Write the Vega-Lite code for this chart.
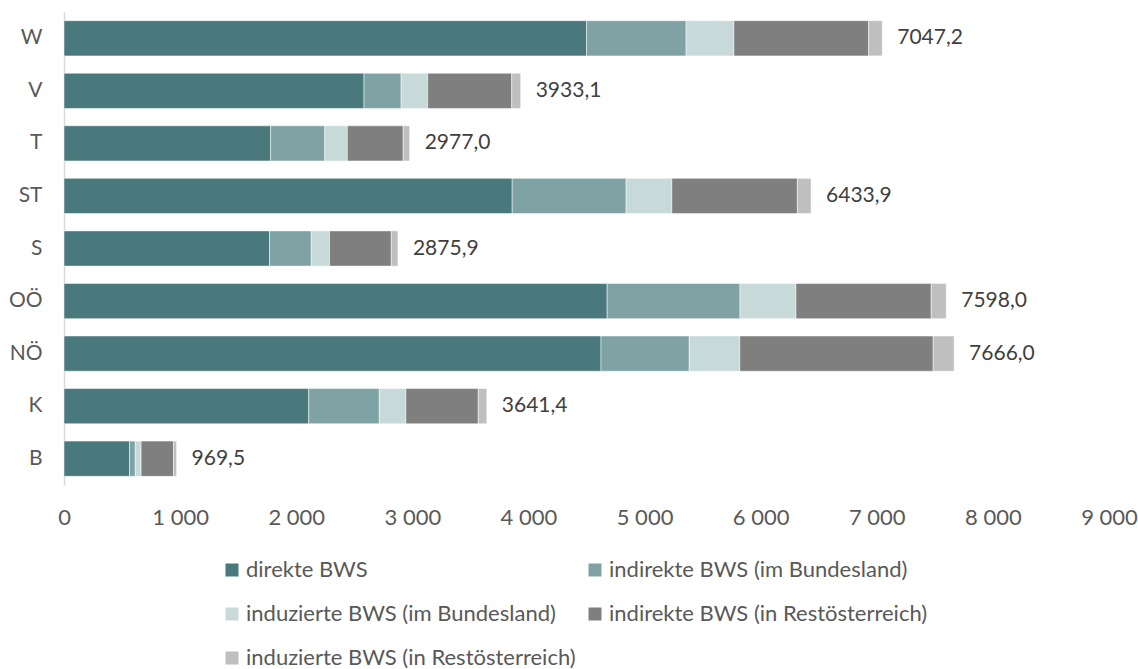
{
  "$schema": "https://vega.github.io/schema/vega-lite/v6.json",
  "width": 1045,
  "height": 473,
  "autosize": {"type": "none"},
  "padding": {"left": 64, "top": 12, "right": 29, "bottom": 184},
  "background": "white",
  "config": {
    "view": {"stroke": null},
    "locale": {"number": {"decimal": ",", "thousands": "\u00a0", "grouping": [3], "currency": ["", " €"]}},
    "font": "Lato",
    "axis": {"labelFont": "Lato", "labelColor": "#595959", "grid": false, "ticks": false, "title": null}
  },
  "data": {
    "values": [
      {"Land": "W", "Komponente": "direkte BWS", "Nr": 1, "Wert": 4500},
      {"Land": "W", "Komponente": "indirekte BWS (im Bundesland)", "Nr": 2, "Wert": 858},
      {"Land": "W", "Komponente": "induzierte BWS (im Bundesland)", "Nr": 3, "Wert": 411},
      {"Land": "W", "Komponente": "indirekte BWS (in Restösterreich)", "Nr": 4, "Wert": 1161},
      {"Land": "W", "Komponente": "induzierte BWS (in Restösterreich)", "Nr": 5, "Wert": 117.2},
      {"Land": "V", "Komponente": "direkte BWS", "Nr": 1, "Wert": 2584},
      {"Land": "V", "Komponente": "indirekte BWS (im Bundesland)", "Nr": 2, "Wert": 320},
      {"Land": "V", "Komponente": "induzierte BWS (im Bundesland)", "Nr": 3, "Wert": 228},
      {"Land": "V", "Komponente": "indirekte BWS (in Restösterreich)", "Nr": 4, "Wert": 724},
      {"Land": "V", "Komponente": "induzierte BWS (in Restösterreich)", "Nr": 5, "Wert": 77.1},
      {"Land": "T", "Komponente": "direkte BWS", "Nr": 1, "Wert": 1779},
      {"Land": "T", "Komponente": "indirekte BWS (im Bundesland)", "Nr": 2, "Wert": 467},
      {"Land": "T", "Komponente": "induzierte BWS (im Bundesland)", "Nr": 3, "Wert": 194},
      {"Land": "T", "Komponente": "indirekte BWS (in Restösterreich)", "Nr": 4, "Wert": 482},
      {"Land": "T", "Komponente": "induzierte BWS (in Restösterreich)", "Nr": 5, "Wert": 55},
      {"Land": "ST", "Komponente": "direkte BWS", "Nr": 1, "Wert": 3860},
      {"Land": "ST", "Komponente": "indirekte BWS (im Bundesland)", "Nr": 2, "Wert": 981},
      {"Land": "ST", "Komponente": "induzierte BWS (im Bundesland)", "Nr": 3, "Wert": 394},
      {"Land": "ST", "Komponente": "indirekte BWS (in Restösterreich)", "Nr": 4, "Wert": 1081},
      {"Land": "ST", "Komponente": "induzierte BWS (in Restösterreich)", "Nr": 5, "Wert": 117.9},
      {"Land": "S", "Komponente": "direkte BWS", "Nr": 1, "Wert": 1770},
      {"Land": "S", "Komponente": "indirekte BWS (im Bundesland)", "Nr": 2, "Wert": 360},
      {"Land": "S", "Komponente": "induzierte BWS (im Bundesland)", "Nr": 3, "Wert": 157},
      {"Land": "S", "Komponente": "indirekte BWS (in Restösterreich)", "Nr": 4, "Wert": 532},
      {"Land": "S", "Komponente": "induzierte BWS (in Restösterreich)", "Nr": 5, "Wert": 56.9},
      {"Land": "OÖ", "Komponente": "direkte BWS", "Nr": 1, "Wert": 4678},
      {"Land": "OÖ", "Komponente": "indirekte BWS (im Bundesland)", "Nr": 2, "Wert": 1144},
      {"Land": "OÖ", "Komponente": "induzierte BWS (im Bundesland)", "Nr": 3, "Wert": 482},
      {"Land": "OÖ", "Komponente": "indirekte BWS (in Restösterreich)", "Nr": 4, "Wert": 1165},
      {"Land": "OÖ", "Komponente": "induzierte BWS (in Restösterreich)", "Nr": 5, "Wert": 129},
      {"Land": "NÖ", "Komponente": "direkte BWS", "Nr": 1, "Wert": 4625},
      {"Land": "NÖ", "Komponente": "indirekte BWS (im Bundesland)", "Nr": 2, "Wert": 760},
      {"Land": "NÖ", "Komponente": "induzierte BWS (im Bundesland)", "Nr": 3, "Wert": 435},
      {"Land": "NÖ", "Komponente": "indirekte BWS (in Restösterreich)", "Nr": 4, "Wert": 1666},
      {"Land": "NÖ", "Komponente": "induzierte BWS (in Restösterreich)", "Nr": 5, "Wert": 180},
      {"Land": "K", "Komponente": "direkte BWS", "Nr": 1, "Wert": 2108},
      {"Land": "K", "Komponente": "indirekte BWS (im Bundesland)", "Nr": 2, "Wert": 608},
      {"Land": "K", "Komponente": "induzierte BWS (im Bundesland)", "Nr": 3, "Wert": 228},
      {"Land": "K", "Komponente": "indirekte BWS (in Restösterreich)", "Nr": 4, "Wert": 624},
      {"Land": "K", "Komponente": "induzierte BWS (in Restösterreich)", "Nr": 5, "Wert": 73.4},
      {"Land": "B", "Komponente": "direkte BWS", "Nr": 1, "Wert": 564},
      {"Land": "B", "Komponente": "indirekte BWS (im Bundesland)", "Nr": 2, "Wert": 50},
      {"Land": "B", "Komponente": "induzierte BWS (im Bundesland)", "Nr": 3, "Wert": 50},
      {"Land": "B", "Komponente": "indirekte BWS (in Restösterreich)", "Nr": 4, "Wert": 279},
      {"Land": "B", "Komponente": "induzierte BWS (in Restösterreich)", "Nr": 5, "Wert": 26.5}
    ]
  },
  "encoding": {
    "y": {
      "field": "Land",
      "type": "nominal",
      "sort": ["W", "V", "T", "ST", "S", "OÖ", "NÖ", "K", "B"],
      "scale": {"paddingInner": 0.33, "paddingOuter": 0.165},
      "axis": {"domain": true, "domainColor": "#D9D9D9", "domainWidth": 1.5, "labelPadding": 22, "labelFontSize": 21}
    }
  },
  "layer": [
    {
      "mark": {"type": "bar", "stroke": "white", "strokeWidth": 0.5},
      "encoding": {
        "x": {
          "field": "Wert",
          "type": "quantitative",
          "stack": "zero",
          "scale": {"domain": [0, 9000], "nice": false},
          "axis": {"values": [0, 1000, 2000, 3000, 4000, 5000, 6000, 7000, 8000, 9000], "format": ",d", "domain": false, "labelPadding": 22, "labelFlush": false, "labelFontSize": 22, "labelOverlap": false}
        },
        "order": {"field": "Nr", "type": "quantitative", "sort": "ascending"},
        "color": {
          "field": "Komponente",
          "type": "nominal",
          "sort": ["direkte BWS", "indirekte BWS (im Bundesland)", "induzierte BWS (im Bundesland)", "indirekte BWS (in Restösterreich)", "induzierte BWS (in Restösterreich)"],
          "scale": {
            "domain": ["direkte BWS", "indirekte BWS (im Bundesland)", "induzierte BWS (im Bundesland)", "indirekte BWS (in Restösterreich)", "induzierte BWS (in Restösterreich)"],
            "range": ["#4A797D", "#7FA3A4", "#C8D9D9", "#7F7F7F", "#BFBFBF"]
          },
          "legend": {
            "title": null,
            "orient": "none",
            "direction": "horizontal",
            "legendX": 157,
            "legendY": 547,
            "columns": 2,
            "symbolType": "square",
            "symbolSize": 169,
            "symbolStrokeWidth": 0,
            "labelFont": "Lato",
            "labelFontSize": 22,
            "labelColor": "#595959",
            "labelLimit": 600,
            "labelOffset": 3,
            "rowPadding": 22,
            "columnPadding": 8
          }
        }
      }
    },
    {
      "mark": {"type": "text", "align": "left", "baseline": "middle", "dx": 15, "fontSize": 21, "font": "Lato", "color": "#404040"},
      "encoding": {
        "x": {"aggregate": "sum", "field": "Wert", "type": "quantitative"},
        "text": {"aggregate": "sum", "field": "Wert", "type": "quantitative", "format": ".1f"}
      }
    }
  ]
}
